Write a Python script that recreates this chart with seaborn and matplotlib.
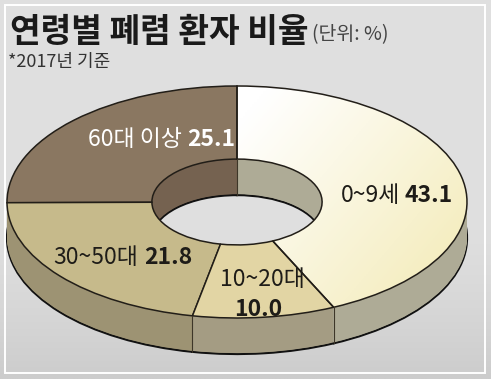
import numpy as np
import matplotlib
matplotlib.use('Agg')
import matplotlib.pyplot as plt
from matplotlib.patches import Rectangle
import seaborn as sns

# 데이터 (단위: %)
groups = ['60대 이상', '30~50대', '10~20대', '0~9세']
shares = [25.1, 21.8, 10.0, 43.1]
top_colors = ['#8a7761', '#c6ba8b', '#e2d5a4', '#fdf8dc']
side_colors = ['#756250', '#9d9373', '#a49c83', '#aeab96']

title = '연령별 폐렴 환자 비율'
unit_note = '(단위: %)'
year_note = '*2017년 기준'

W, H = 491, 379
CX, CY = 237, 202          # 도넛 중심 (px)
RX, RY = 230, 116          # 바깥 반지름 (px)
DEPTH = 36 / RY            # 옆면 두께 (데이터 단위)
R_IN = 0.37
N_LAYERS = 40

sns.set_theme(style='white')
plt.rcParams['font.family'] = ['Noto Sans CJK KR', 'DejaVu Sans']


def px_to_data(px, py):
    return (px - CX) / RX, (CY - py) / RY


fig = plt.figure(figsize=(W / 100, H / 100), dpi=100)

# 배경 그라데이션
ax_bg = fig.add_axes([0, 0, 1, 1])
g = np.linspace(0, 1, 256)[:, None]
top_c = np.array([0.878, 0.878, 0.878])
bot_c = np.array([0.80, 0.80, 0.80])
shade = np.clip((g - 0.55) / 0.45, 0, 1) ** 1.5
bg = top_c * (1 - shade[..., None]) + bot_c * shade[..., None]
bg = np.repeat(bg, 4, axis=1)
ax_bg.imshow(bg, aspect='auto', extent=(0, 1, 0, 1))
ax_bg.axis('off')
fig.patches.append(Rectangle((5 / W, 1 - 373 / H), 480 / W, 368 / H,
                             transform=fig.transFigure, fill=False,
                             edgecolor='white', linewidth=1.4))

ax = fig.add_axes([0, 0, 1, 1])
ax.patch.set_alpha(0)

# 옆면: 아래에서 위로 여러 장 겹쳐 두께 표현
for i in range(N_LAYERS + 1):
    off = -DEPTH + DEPTH * i / N_LAYERS
    first = i == 0
    wedges, _ = ax.pie(shares, colors=side_colors, startangle=90, counterclock=True,
                       radius=1, center=(0, off),
                       wedgeprops=dict(width=1 - R_IN,
                                       edgecolor='#111111' if first else 'none',
                                       linewidth=1.6 if first else 0))
    for w in wedges:
        w.set_zorder(1)

# 윗면
top_wedges, _ = ax.pie(shares, colors=top_colors, startangle=90, counterclock=True,
                       radius=1, center=(0, 0),
                       wedgeprops=dict(width=1 - R_IN, edgecolor='#221e18', linewidth=1.1))
for w in top_wedges:
    w.set_zorder(3)

# 0~9세 윗면 그라데이션
grad_wedge = top_wedges[3]
gx, gy = np.meshgrid(np.linspace(-1, 1, 200), np.linspace(1, -1, 200))
t = np.clip(0.2 + 0.7 * gx - 0.3 * gy, 0, 1)[..., None]
c0 = np.array([1.0, 1.0, 1.0])
c1 = np.array([0.96, 0.93, 0.75])
img = c0 * (1 - t) + c1 * t
im = ax.imshow(img, extent=(-1, 1, -1, 1), aspect='auto', zorder=2.5)
im.set_clip_path(grad_wedge)
grad_wedge.set_facecolor('none')

# 조각 경계의 세로선
for w in top_wedges:
    th = np.deg2rad(w.theta1)
    s, c = np.sin(th), np.cos(th)
    if s < -0.05:
        r = 1.0
    elif s > 0.05:
        r = R_IN
    else:
        continue
    ax.plot([c * r, c * r], [s * r, s * r - DEPTH], color='#3d3628', linewidth=0.8, zorder=4)

ax.set_aspect('auto')
ax.set_xlim(-CX / RX, (W - CX) / RX)
ax.set_ylim(-(H - CY) / RY, CY / RY)
ax.axis('off')

# 라벨 (px 위치: 일반 글씨 끝, 굵은 숫자 시작, 세로 중심)
label_pos = {
    '60대 이상': (182, 187, 140, 'white'),
    '0~9세': (400, 405, 196, '#1e1c18'),
    '30~50대': (138, 144, 258, '#1e1c18'),
}
for name, val in zip(groups, shares):
    if name in label_pos:
        xr, xl, yc, col = label_pos[name]
        x1, y1 = px_to_data(xr, yc)
        x2, _ = px_to_data(xl, yc)
        ax.text(x1, y1, name, ha='right', va='center', fontsize=16.5, color=col, zorder=5)
        ax.text(x2, y1, f'{val:.1f}', ha='left', va='center', fontsize=16.5,
                fontweight='bold', color=col, zorder=5)
    else:
        x1, y1 = px_to_data(262, 279)
        x2, y2 = px_to_data(258, 310)
        ax.text(x1, y1, name, ha='center', va='center', fontsize=16.5, color='#1e1c18', zorder=5)
        ax.text(x2, y2, f'{val:.1f}', ha='center', va='center', fontsize=16.5,
                fontweight='bold', color='#1e1c18', zorder=5)

# 제목
t_main = fig.text(10 / W, 1 - 42 / H, title, fontsize=24, fontweight='bold',
                  color='#1a1a1a', ha='left', va='baseline')
fig.canvas.draw()
bb = t_main.get_window_extent()
fig.text((bb.x1 + 4) / W, 1 - 40 / H, unit_note, fontsize=14, color='#444444',
         ha='left', va='baseline')
fig.text(8 / W, 1 - 67 / H, year_note, fontsize=13, color='#333333',
         ha='left', va='baseline')

fig.savefig('out.png', dpi=100)
